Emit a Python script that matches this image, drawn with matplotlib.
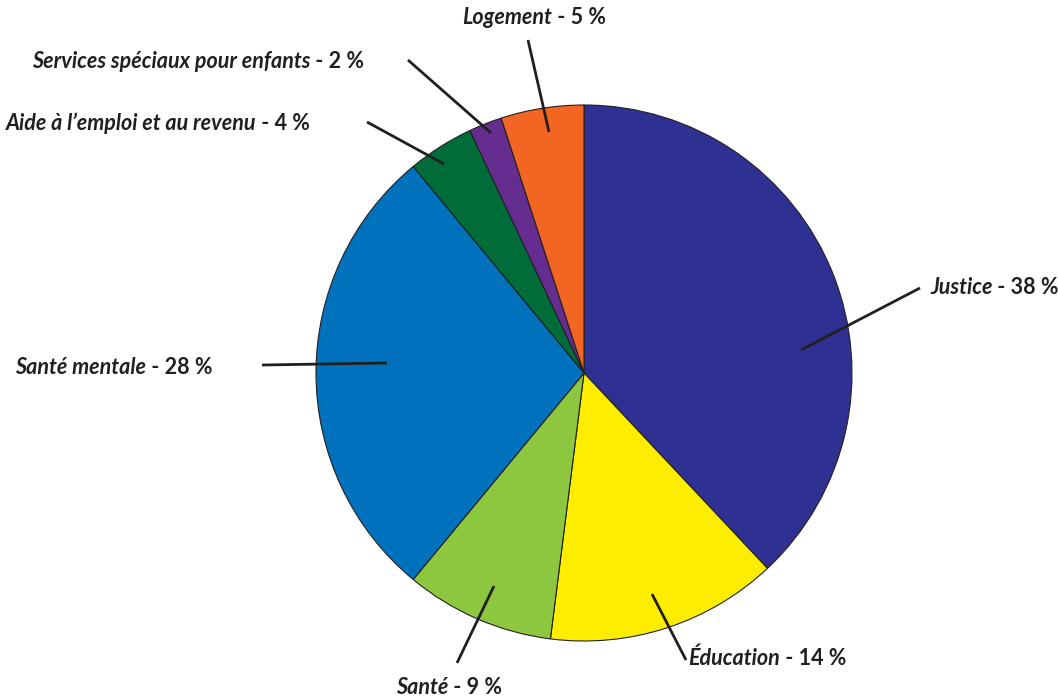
import matplotlib
matplotlib.use("Agg")
import matplotlib.pyplot as plt

categories = ["Justice", "Éducation", "Santé", "Santé mentale",
              "Aide à l\u2019emploi et au revenu", "Services spéciaux pour enfants", "Logement"]
values = [38, 14, 9, 28, 4, 2, 5]
colors = ["#2E3192", "#FFED00", "#8DC63F", "#0071BC", "#006C39", "#662D91", "#F26522"]

# layout (pixel coordinates): label left/y and leader line start(out)->end(in)
label_pos = [(930, 287), (688, 658), (396, 687), (15, 367), (6, 123), (32, 62), (462, 18)]
leader = [((920, 288), (801, 350)), ((686, 660), (652, 594)), ((457, 663), (494, 586)),
          ((262, 365), (387, 363)), ((367, 122), (444, 164)), ((408, 60), (491, 133)),
          ((528, 40), (549, 132))]

W, H = 1058, 696
fig = plt.figure(figsize=(W / 100, H / 100), dpi=100)
ax = fig.add_axes([0, 0, 1, 1])

cx, cy, r = 584, 373, 268
# y axis is inverted (pixel coords): startangle -90 = top on screen, counterclock in data = clockwise on screen
wedges, _ = ax.pie(values, colors=colors, startangle=-90, counterclock=True,
                   center=(cx, cy), radius=r, frame=True,
                   wedgeprops=dict(edgecolor="#231F20", linewidth=0.8))
ax.set_xlim(0, W)
ax.set_ylim(H, 0)
ax.set_aspect("equal")
ax.axis("off")

for (p0, p1) in leader:
    ax.plot([p0[0], p1[0]], [p0[1], p1[1]], color="#231F20", lw=2.0, solid_capstyle="butt")

fs = 15.5
tc = "#231F20"
for cat, v, (lx, ly) in zip(categories, values, label_pos):
    t = ax.text(lx, ly, cat, fontsize=fs, fontweight="bold", fontstyle="italic",
                family="Lato", color=tc, ha="left", va="center")
    ax.annotate(f" - {v} %", xy=(1, 0), xycoords=t, fontsize=fs, fontweight="bold",
                family="Lato", color=tc, ha="left", va="bottom")

fig.savefig("out.png", dpi=100)
